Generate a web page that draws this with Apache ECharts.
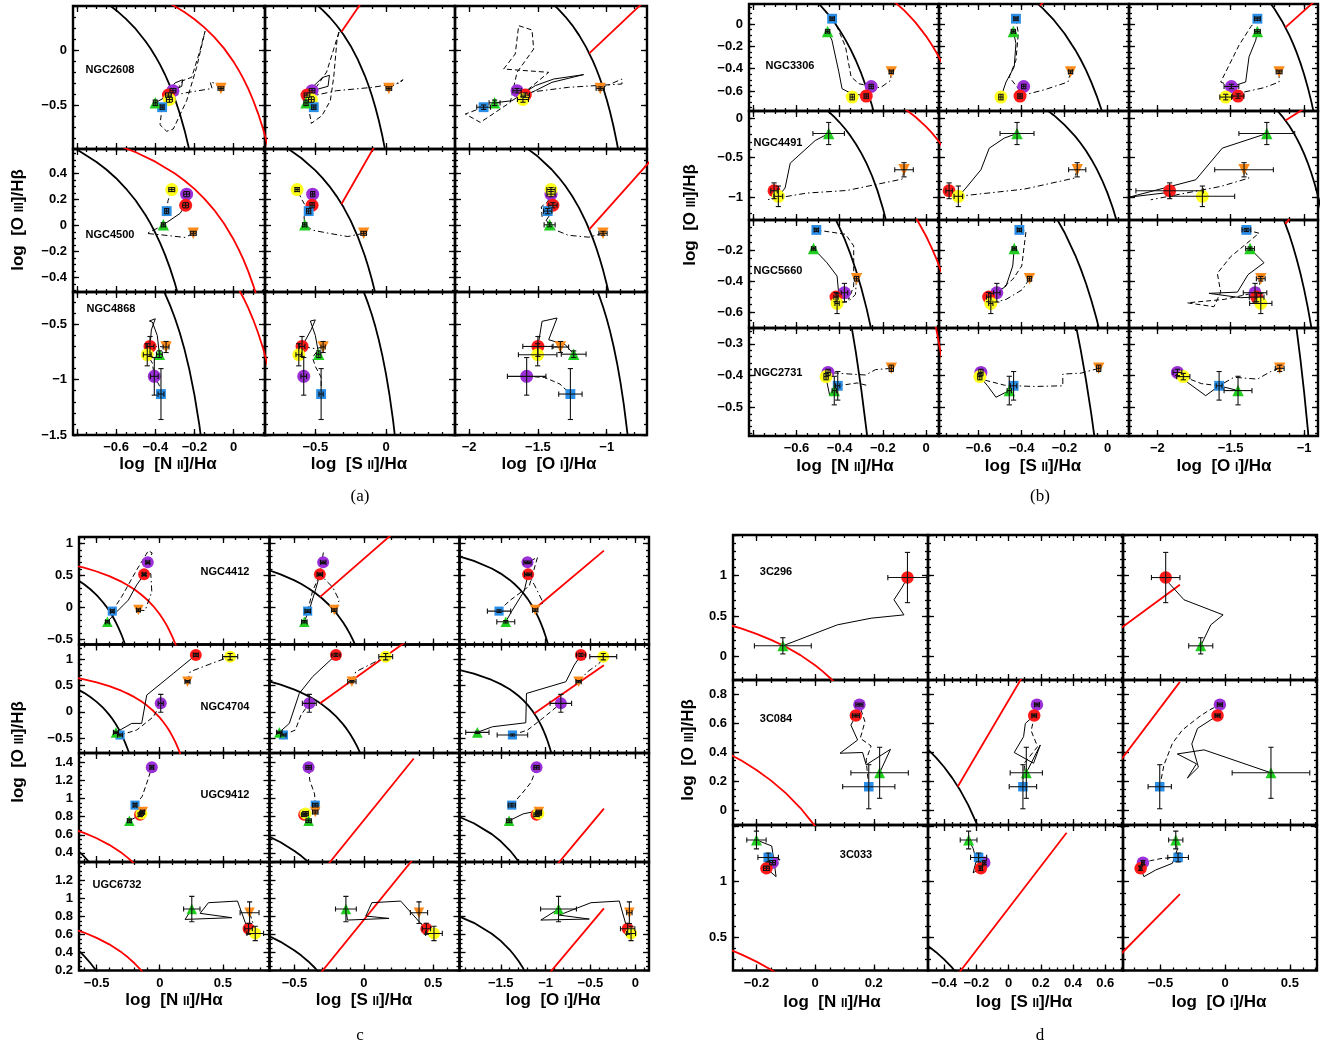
<!DOCTYPE html>
<html><head><meta charset="utf-8">
<script src="https://cdn.jsdelivr.net/npm/echarts@6/dist/echarts.min.js"></script>
<style>html,body{margin:0;padding:0;background:#fff}#c{width:1323px;height:1048px}</style>
</head><body><div id="c"></div><script>
// ---------- demarcation curves ----------
const KAUFF_NII = [[-2.0,1.002],[-1.5,0.906],[-1.2,0.812],[-1.0,0.719],[-0.9,0.658],[-0.8,0.582],[-0.7,0.487],[-0.65,0.429],[-0.6,0.362],[-0.55,0.283],[-0.5,0.191],[-0.45,0.080],[-0.425,0.016],[-0.4,-0.056],[-0.375,-0.135],[-0.35,-0.225],[-0.325,-0.327],[-0.3,-0.443],[-0.275,-0.577],[-0.25,-0.733],[-0.225,-0.918],[-0.2,-1.14],[-0.175,-1.411],[-0.15,-1.75],[-0.125,-2.186],[-0.1,-2.767]];
const KEWLEY_NII = [[-2.0,0.943],[-1.5,0.880],[-1.0,0.775],[-0.8,0.710],[-0.6,0.620],[-0.5,0.561],[-0.4,0.489],[-0.3,0.398],[-0.25,0.343],[-0.2,0.280],[-0.15,0.206],[-0.1,0.120],[-0.05,0.017],[0.0,-0.108],[0.025,-0.181],[0.05,-0.262],[0.075,-0.354],[0.1,-0.459],[0.125,-0.578],[0.15,-0.716],[0.175,-0.878],[0.2,-1.069],[0.225,-1.300],[0.25,-1.583],[0.3,-2.398]];
const KEWLEY_SII = [[-1.2,0.826],[-1.0,0.755],[-0.8,0.657],[-0.7,0.594],[-0.6,0.517],[-0.5,0.422],[-0.45,0.365],[-0.4,0.300],[-0.35,0.225],[-0.3,0.139],[-0.25,0.037],[-0.2,-0.085],[-0.15,-0.232],[-0.125,-0.318],[-0.1,-0.414],[-0.075,-0.523],[-0.05,-0.646],[-0.025,-0.787],[0.0,-0.950],[0.025,-1.141],[0.05,-1.367],[0.08,-1.700]];
const SEYLIN_SII = [[-0.315,0.165],[0.36,1.44]];
const KEWLEY_OI = [[-2.5,0.948],[-2.2,0.877],[-2.0,0.812],[-1.8,0.727],[-1.6,0.607],[-1.5,0.528],[-1.4,0.429],[-1.35,0.369],[-1.3,0.302],[-1.25,0.224],[-1.2,0.133],[-1.15,0.026],[-1.1,-0.101],[-1.075,-0.175],[-1.05,-0.257],[-1.025,-0.348],[-1.0,-0.450],[-0.975,-0.566],[-0.95,-0.698],[-0.925,-0.849],[-0.9,-1.025],[-0.875,-1.231],[-0.85,-1.478],[-0.82,-1.844]];
const SEYLIN_OI = [[-1.127,-0.03],[-0.35,0.887]];

// ---------- tick labels ----------
const A_xLabels = [[-0.6,-0.4,-0.2,0],[-0.5,0],[-2,-1.5,-1]];
const A_yLabels = [[-0.5,0],[-0.4,-0.2,0,0.2,0.4],[-1.5,-1,-0.5]];
const B_xLabels = [[-0.6,-0.4,-0.2,0],[-0.6,-0.4,-0.2,0],[-2,-1.5,-1]];
const B_yLabels = [[-0.6,-0.4,-0.2,0],[-1,-0.5,0],[-0.6,-0.4,-0.2],[-0.5,-0.4,-0.3]];
const C_xLabels = [[-0.5,0,0.5],[-0.5,0,0.5],[-1.5,-1,-0.5,0]];
const C_yLabels = [[-0.5,0,0.5,1],[-0.5,0,0.5,1],[0.4,0.6,0.8,1,1.2,1.4],[0.2,0.4,0.6,0.8,1,1.2]];
const D_xLabels = [[-0.2,0,0.2],[-0.4,-0.2,0,0.2,0.4,0.6],[-0.5,0,0.5]];
const D_yLabels = [[0,0.5,1],[0,0.2,0.4,0.6,0.8],[0.5,1]];

const A_gals = ['NGC2608','NGC4500','NGC4868'];
const B_gals = ['NGC3306','NGC4491','NGC5660','NGC2731'];
const C_gals = ['NGC4412','NGC4704','UGC9412','UGC6732'];
const D_gals = ['3C296','3C084','3C033'];

// marker order: [purple, red, yellow, blue, green, orange]
// ---------- NGC2608 ----------
const NGC2608_y  = [-0.37,-0.41,-0.45,-0.52,-0.48,-0.35];
const NGC2608_ey = [0.02,0.02,0.025,0.02,0.025,0.015];
const NGC2608_xN = [-0.31,-0.333,-0.328,-0.365,-0.40,-0.065];
const NGC2608_exN= [0.015,0.015,0.015,0.01,0.01,0.015];
const NGC2608_xS = [-0.523,-0.559,-0.528,-0.511,-0.566,0.02];
const NGC2608_exS= [0.02,0.02,0.02,0.015,0.015,0.02];
const NGC2608_xO = [-1.652,-1.592,-1.609,-1.895,-1.815,-1.047];
const NGC2608_exO= [0.03,0.03,0.04,0.05,0.04,0.03];
const NGC2608_N_paths = [
 [[-0.40,-0.48],[-0.36,-0.44],[-0.30,-0.30],[-0.26,-0.27],[-0.265,-0.33],[-0.31,-0.37]],
 [[-0.365,-0.52],[-0.376,-0.679],[-0.342,-0.739],[-0.308,-0.718],[-0.24,-0.461],[-0.189,-0.158],[-0.146,0.17],[-0.172,-0.006],[-0.214,-0.248],[-0.26,-0.279],[-0.291,-0.37]],
 [[-0.065,-0.35],[-0.10,-0.30],[-0.12,-0.29],[-0.11,-0.35],[-0.25,-0.39],[-0.36,-0.44]]];
const NGC2608_S_paths = [
 [[-0.566,-0.48],[-0.53,-0.35],[-0.45,-0.25],[-0.40,-0.23],[-0.41,-0.33],[-0.523,-0.37]],
 [[-0.511,-0.52],[-0.54,-0.582],[-0.528,-0.667],[-0.453,-0.597],[-0.394,-0.461],[-0.37,-0.248],[-0.347,0.085],[-0.33,0.176],[-0.36,0.05],[-0.42,-0.2],[-0.5,-0.35]],
 [[0.02,-0.35],[0.12,-0.27],[0.10,-0.30],[-0.1,-0.34],[-0.35,-0.37],[-0.53,-0.42]]];
const NGC2608_O_paths = [
 [[-1.815,-0.48],[-1.689,-0.461],[-1.519,-0.324],[-1.386,-0.264],[-1.168,-0.224],[-1.398,-0.294],[-1.519,-0.37],[-1.592,-0.41]],
 [[-1.895,-0.52],[-2.028,-0.582],[-1.919,-0.658],[-1.701,-0.476],[-1.652,-0.203],[-1.531,0.009],[-1.543,0.182],[-1.64,0.221],[-1.665,-0.036],[-1.749,-0.173],[-1.422,-0.203],[-1.568,-0.355],[-1.652,-0.37]],
 [[-1.047,-0.35],[-0.889,-0.264],[-0.889,-0.309],[-1.277,-0.339],[-1.567,-0.385]]];
// ---------- NGC4500 ----------
const NGC4500_y  = [0.24,0.155,0.275,0.11,0.005,-0.06];
const NGC4500_ey = [0.02,0.02,0.015,0.02,0.015,0.015];
const NGC4500_xN = [-0.24,-0.245,-0.316,-0.342,-0.359,-0.206];
const NGC4500_exN= [0.015,0.015,0.015,0.01,0.01,0.015];
const NGC4500_xS = [-0.519,-0.523,-0.629,-0.547,-0.575,-0.158];
const NGC4500_exS= [0.015,0.015,0.015,0.015,0.015,0.02];
const NGC4500_xO = [-1.405,-1.391,-1.405,-1.429,-1.415,-1.027];
const NGC4500_exO= [0.03,0.03,0.03,0.03,0.04,0.03];
const NGC4500_N_paths = [
 [[-0.359,0.005],[-0.274,0.092],[-0.245,0.155]],
 [[-0.342,0.11],[-0.335,0.19],[-0.316,0.275]],
 [[-0.206,-0.06],[-0.248,-0.092],[-0.35,-0.075],[-0.444,-0.061],[-0.36,0.0]]];
const NGC4500_S_paths = [
 [[-0.575,0.005],[-0.58,0.07],[-0.547,0.1],[-0.523,0.155]],
 [[-0.547,0.11],[-0.594,0.195],[-0.629,0.275]],
 [[-0.158,-0.06],[-0.27,-0.085],[-0.40,-0.061],[-0.52,-0.036],[-0.575,0.005]]];
const NGC4500_O_paths = [
 [[-1.415,0.005],[-1.44,0.04],[-1.40,0.1],[-1.391,0.155]],
 [[-1.429,0.11],[-1.47,0.066],[-1.475,0.143],[-1.43,0.18],[-1.405,0.24]],
 [[-1.027,-0.06],[-1.13,-0.09],[-1.28,-0.075],[-1.37,-0.036],[-1.415,0.005]]];
// ---------- NGC4868 ----------
const NGC4868_y  = [-0.97,-0.70,-0.775,-1.13,-0.77,-0.705];
const NGC4868_ey = [0.17,0.09,0.1,0.23,0.03,0.05];
const NGC4868_xN = [-0.405,-0.427,-0.441,-0.371,-0.379,-0.345];
const NGC4868_exN= [0.02,0.02,0.02,0.015,0.015,0.015];
const NGC4868_xS = [-0.582,-0.594,-0.617,-0.459,-0.476,-0.445];
const NGC4868_exS= [0.02,0.02,0.02,0.015,0.015,0.015];
const NGC4868_xO = [-1.582,-1.5,-1.502,-1.264,-1.24,-1.337];
const NGC4868_exO= [0.14,0.11,0.14,0.085,0.09,0.06];
const NGC4868_N_paths = [
 [[-0.379,-0.77],[-0.39,-0.6],[-0.415,-0.48],[-0.43,-0.47],[-0.40,-0.45],[-0.42,-0.55],[-0.427,-0.70]],
 [[-0.371,-1.13],[-0.38,-1.05],[-0.405,-0.97],[-0.415,-0.85],[-0.441,-0.775]],
 [[-0.345,-0.705],[-0.39,-0.70],[-0.427,-0.70]]];
const NGC4868_S_paths = [
 [[-0.476,-0.77],[-0.50,-0.60],[-0.535,-0.47],[-0.50,-0.46],[-0.53,-0.55],[-0.594,-0.70]],
 [[-0.459,-1.13],[-0.458,-0.98],[-0.50,-0.88],[-0.52,-0.80],[-0.48,-0.73]],
 [[-0.445,-0.705],[-0.50,-0.72],[-0.594,-0.70]]];
const NGC4868_O_paths = [
 [[-1.5,-0.70],[-1.47,-0.473],[-1.361,-0.443],[-1.422,-0.639],[-1.301,-0.684],[-1.24,-0.77]],
 [[-1.582,-0.97],[-1.45,-0.98],[-1.34,-1.04],[-1.264,-1.13]],
 [[-1.337,-0.705],[-1.41,-0.70],[-1.5,-0.70]]];
// ---------- NGC3306 ----------
const NGC3306_y  = [-0.56,-0.646,-0.655,0.048,-0.066,-0.429];
const NGC3306_ey = [0.02,0.02,0.025,0.015,0.015,0.015];
const NGC3306_xN = [-0.254,-0.277,-0.342,-0.435,-0.456,-0.161];
const NGC3306_exN= [0.01,0.01,0.01,0.01,0.01,0.01];
const NGC3306_xS = [-0.39,-0.407,-0.496,-0.426,-0.438,-0.172];
const NGC3306_exS= [0.01,0.01,0.01,0.01,0.01,0.01];
const NGC3306_xO = [-1.495,-1.45,-1.534,-1.318,-1.318,-1.17];
const NGC3306_exO= [0.05,0.04,0.04,0.02,0.02,0.02];
const NGC3306_N_paths = [
 [[-0.456,-0.066],[-0.436,-0.144],[-0.404,-0.429],[-0.389,-0.58],[-0.35,-0.619],[-0.277,-0.646]],
 [[-0.435,0.048],[-0.412,-0.024],[-0.373,-0.204],[-0.347,-0.474],[-0.311,-0.535],[-0.254,-0.56]],
 [[-0.161,-0.429],[-0.164,-0.505],[-0.211,-0.571],[-0.254,-0.56]]];
const NGC3306_S_paths = [
 [[-0.438,-0.066],[-0.426,-0.174],[-0.434,-0.384],[-0.472,-0.52],[-0.496,-0.655]],
 [[-0.426,0.048],[-0.415,-0.084],[-0.426,-0.324],[-0.457,-0.474],[-0.407,-0.60],[-0.39,-0.56]],
 [[-0.172,-0.429],[-0.184,-0.52],[-0.293,-0.589],[-0.407,-0.646]]];
const NGC3306_O_paths = [
 [[-1.318,-0.066],[-1.329,-0.144],[-1.375,-0.294],[-1.398,-0.52],[-1.495,-0.56]],
 [[-1.318,0.048],[-1.363,-0.024],[-1.443,-0.189],[-1.568,-0.52],[-1.495,-0.56]],
 [[-1.17,-0.429],[-1.17,-0.52],[-1.273,-0.571],[-1.409,-0.61],[-1.45,-0.646]]];
// ---------- NGC4491 ----------
const NGC4491_y  = [null,-0.92,-0.99,null,-0.195,-0.654];
const NGC4491_ey = [0,0.1,0.13,0,0.14,0.09];
const NGC4491_xN = [null,-0.704,-0.684,null,-0.451,-0.102];
const NGC4491_exN= [0,0.015,0.02,0,0.073,0.043];
const NGC4491_xS = [null,-0.737,-0.694,null,-0.421,-0.141];
const NGC4491_exS= [0,0.015,0.02,0,0.079,0.04];
const NGC4491_xO = [null,-1.916,-1.693,null,-1.254,-1.409];
const NGC4491_exO= [0,0.23,0.22,0,0.19,0.2];
const NGC4491_N_paths = [
 [[-0.451,-0.195],[-0.513,-0.283],[-0.629,-0.57],[-0.653,-0.886],[-0.684,-0.99]],
 [],
 [[-0.102,-0.654],[-0.11,-0.772],[-0.366,-0.916],[-0.552,-0.949],[-0.738,-1.034]]];
const NGC4491_S_paths = [
 [[-0.421,-0.195],[-0.48,-0.253],[-0.55,-0.38],[-0.589,-0.654],[-0.659,-0.886],[-0.694,-0.99]],
 [],
 [[-0.141,-0.654],[-0.153,-0.759],[-0.387,-0.899],[-0.694,-0.99]]];
const NGC4491_O_paths = [
 [[-1.254,-0.195],[-1.557,-0.38],[-1.738,-0.781],[-2.19,-1.0],[-1.916,-0.94]],
 [],
 [[-1.409,-0.654],[-1.375,-0.759],[-1.568,-0.865],[-2.045,-1.034]]];
// ---------- NGC5660 ----------
const NGC5660_y  = [-0.473,-0.501,-0.542,-0.069,-0.189,-0.383];
const NGC5660_ey = [0.06,0.03,0.065,0.01,0.01,0.015];
const NGC5660_xN = [-0.378,-0.417,-0.412,-0.508,-0.521,-0.322];
const NGC5660_exN= [0.015,0.01,0.01,0.01,0.01,0.01];
const NGC5660_xS = [-0.515,-0.553,-0.543,-0.41,-0.434,-0.363];
const NGC5660_exS= [0.015,0.01,0.01,0.01,0.01,0.01];
const NGC5660_xO = [-1.334,-1.323,-1.295,-1.393,-1.368,-1.295];
const NGC5660_exO= [0.08,0.05,0.076,0.03,0.03,0.03];
const NGC5660_N_paths = [
 [[-0.521,-0.189],[-0.459,-0.28],[-0.412,-0.366],[-0.405,-0.473],[-0.417,-0.501]],
 [[-0.508,-0.069],[-0.373,-0.097],[-0.335,-0.172],[-0.335,-0.43],[-0.358,-0.516],[-0.378,-0.473]],
 [[-0.322,-0.383],[-0.327,-0.484],[-0.358,-0.527],[-0.412,-0.542]]];
const NGC5660_S_paths = [
 [[-0.434,-0.189],[-0.441,-0.301],[-0.472,-0.43],[-0.515,-0.473]],
 [[-0.41,-0.069],[-0.379,-0.075],[-0.399,-0.301],[-0.441,-0.387],[-0.515,-0.473]],
 [[-0.363,-0.383],[-0.395,-0.452],[-0.472,-0.516],[-0.543,-0.542]]];
const NGC5660_O_paths = [
 [[-1.368,-0.189],[-1.273,-0.28],[-1.382,-0.357],[-1.454,-0.469],[-1.648,-0.477],[-1.432,-0.505],[-1.323,-0.501]],
 [[-1.393,-0.069],[-1.307,-0.09],[-1.5,-0.241],[-1.591,-0.348],[-1.568,-0.469],[-1.614,-0.563],[-1.795,-0.538],[-1.545,-0.516],[-1.334,-0.473]],
 [[-1.295,-0.383],[-1.31,-0.45],[-1.295,-0.542]]];
// ---------- NGC2731 ----------
const NGC2731_y  = [-0.39,null,-0.403,-0.432,-0.447,-0.377];
const NGC2731_ey = [0.01,0,0.01,0.045,0.045,0.01];
const NGC2731_xN = [-0.454,null,-0.463,-0.409,-0.425,-0.161];
const NGC2731_exN= [0.01,0,0.01,0.01,0.01,0.01];
const NGC2731_xS = [-0.589,null,-0.594,-0.437,-0.457,-0.041];
const NGC2731_exS= [0.01,0,0.01,0.015,0.01,0.01];
const NGC2731_xO = [-1.863,null,-1.823,-1.579,-1.45,-1.166];
const NGC2731_exO= [0.03,0,0.045,0.02,0.095,0.03];
const NGC2731_N_paths = [
 [[-0.425,-0.447],[-0.446,-0.463],[-0.459,-0.421],[-0.463,-0.403]],
 [[-0.409,-0.432],[-0.319,-0.423],[-0.265,-0.432]],
 [[-0.161,-0.377],[-0.234,-0.381],[-0.28,-0.398],[-0.397,-0.393],[-0.454,-0.39]]];
const NGC2731_S_paths = [
 [[-0.457,-0.447],[-0.519,-0.468],[-0.558,-0.432],[-0.594,-0.403]],
 [[-0.437,-0.432],[-0.48,-0.43],[-0.594,-0.41]],
 [[-0.041,-0.377],[-0.122,-0.392],[-0.208,-0.395],[-0.208,-0.432],[-0.34,-0.434],[-0.437,-0.432]]];
const NGC2731_O_paths = [
 [[-1.45,-0.447],[-1.579,-0.432],[-1.67,-0.463],[-1.795,-0.421],[-1.823,-0.403]],
 [[-1.579,-0.432],[-1.7,-0.425],[-1.823,-0.403]],
 [[-1.166,-0.377],[-1.227,-0.387],[-1.318,-0.411],[-1.477,-0.405],[-1.579,-0.432]]];
// ---------- NGC4412 ----------
const NGC4412_y  = [0.704,0.516,null,-0.058,-0.225,-0.042];
const NGC4412_ey = [0.02,0.02,0,0.02,0.02,0.02];
const NGC4412_xN = [-0.095,-0.124,null,-0.376,-0.415,-0.169];
const NGC4412_exN= [0.015,0.015,0,0.015,0.015,0.015];
const NGC4412_xS = [-0.293,-0.317,null,-0.405,-0.429,-0.213];
const NGC4412_exS= [0.02,0.02,0,0.02,0.02,0.02];
const NGC4412_xO = [-1.202,-1.195,null,-1.519,-1.444,-1.116];
const NGC4412_exO= [0.04,0.04,0,0.13,0.1,0.03];
const NGC4412_N_paths = [
 [[-0.415,-0.225],[-0.341,-0.068],[-0.249,0.114],[-0.183,0.349],[-0.124,0.516]],
 [[-0.376,-0.058],[-0.302,0.166],[-0.183,0.584],[-0.09,0.886],[-0.06,0.85],[-0.095,0.704]],
 [[-0.169,-0.042],[-0.116,-0.049],[-0.063,0.245],[-0.071,0.528],[-0.124,0.516]]];
const NGC4412_S_paths = [
 [[-0.429,-0.225],[-0.388,-0.002],[-0.345,0.298],[-0.317,0.516]],
 [[-0.405,-0.058],[-0.37,0.25],[-0.317,0.516],[-0.29,0.88]],
 [[-0.213,-0.042],[-0.177,0.108],[-0.225,0.317],[-0.317,0.516]]];
const NGC4412_O_paths = [
 [[-1.444,-0.225],[-1.377,-0.058],[-1.239,0.256],[-1.195,0.516]],
 [[-1.519,-0.058],[-1.407,0.099],[-1.183,0.332],[-1.09,0.782],[-1.202,0.704]],
 [[-1.116,-0.042],[-1.027,0.073],[-1.128,0.36],[-1.195,0.516]]];
// ---------- NGC4704 ----------
const NGC4704_y  = [0.163,1.081,1.049,-0.438,-0.388,0.574];
const NGC4704_ey = [0.17,0.03,0.06,0.02,0.02,0.02];
const NGC4704_xN = [0.008,0.286,0.558,-0.315,-0.347,0.22];
const NGC4704_exN= [0.02,0.02,0.06,0.02,0.02,0.02];
const NGC4704_xS = [-0.393,-0.201,0.158,-0.58,-0.609,-0.086];
const NGC4704_exS= [0.05,0.03,0.05,0.02,0.02,0.03];
const NGC4704_xO = [-0.83,-0.606,-0.357,-1.37,-1.761,-0.632];
const NGC4704_exO= [0.12,0.05,0.15,0.17,0.13,0.03];
const NGC4704_N_paths = [
 [[-0.347,-0.388],[-0.222,-0.218],[-0.143,-0.218],[-0.103,0.32],[0.108,0.731],[0.286,1.081]],
 [[-0.315,-0.438],[-0.183,-0.345],[-0.05,-0.092],[0.008,0.163]],
 [[0.22,0.574],[0.241,0.763],[0.426,0.934],[0.558,1.049]]];
const NGC4704_S_paths = [
 [[-0.609,-0.388],[-0.537,-0.218],[-0.465,0.352],[-0.369,0.669],[-0.201,1.081]],
 [[-0.58,-0.438],[-0.494,-0.345],[-0.453,-0.06],[-0.393,0.163]],
 [[-0.086,0.574],[-0.058,0.763],[0.062,0.922],[0.158,1.049]]];
const NGC4704_O_paths = [
 [[-1.761,-0.388],[-1.593,-0.282],[-1.221,-0.206],[-1.213,0.351],[-0.774,0.573],[-0.681,0.889],[-0.606,1.081]],
 [[-1.37,-0.438],[-1.202,-0.345],[-1.034,-0.124],[-0.83,0.163]],
 [[-0.632,0.574],[-0.532,0.763],[-0.401,0.922],[-0.357,1.049]]];
// ---------- UGC9412 ----------
const UGC9412_y  = [1.342,0.82,0.835,0.926,0.754,0.85];
const UGC9412_ey = [0.02,0.02,0.02,0.02,0.02,0.02];
const UGC9412_xN = [-0.063,-0.156,-0.145,-0.196,-0.241,-0.135];
const UGC9412_exN= [0.015,0.015,0.015,0.015,0.015,0.015];
const UGC9412_xS = [-0.398,-0.43,-0.42,-0.35,-0.398,-0.35];
const UGC9412_exS= [0.02,0.02,0.02,0.02,0.02,0.02];
const UGC9412_xO = [-1.101,-1.101,-1.08,-1.377,-1.407,-1.075];
const UGC9412_exO= [0.03,0.03,0.03,0.04,0.03,0.03];
const UGC9412_N_paths = [
 [[-0.241,0.754],[-0.18,0.8],[-0.156,0.82]],
 [[-0.196,0.926],[-0.14,1.02],[-0.10,1.18],[-0.063,1.342]], []];
const UGC9412_S_paths = [
 [[-0.398,0.754],[-0.41,0.8],[-0.43,0.82]],
 [[-0.35,0.926],[-0.355,1.05],[-0.39,1.2],[-0.398,1.342]], []];
const UGC9412_O_paths = [
 [[-1.407,0.754],[-1.25,0.83],[-1.15,0.85],[-1.101,0.82]],
 [[-1.377,0.926],[-1.25,1.07],[-1.16,1.18],[-1.101,1.342]], []];
// ---------- UGC6732 ----------
const UGC6732_y  = [null,0.662,0.61,null,0.88,0.839];
const UGC6732_ey = [0,0.06,0.08,0,0.14,0.12];
const UGC6732_xN = [null,0.704,0.757,null,0.254,0.712];
const UGC6732_exN= [0,0.03,0.066,0,0.065,0.075];
const UGC6732_xS = [null,0.451,0.506,null,-0.129,0.398];
const UGC6732_exS= [0,0.03,0.06,0,0.075,0.062];
const UGC6732_xO = [null,-0.085,-0.047,null,-0.856,-0.066];
const UGC6732_exO= [0,0.08,0.05,0,0.2,0.03];
const UGC6732_N_paths = [
 [[0.254,0.88],[0.201,0.765],[0.571,0.784],[0.32,0.832],[0.386,0.95],[0.616,0.968],[0.69,0.684],[0.704,0.662]],
 [], [[0.712,0.839],[0.74,0.72],[0.757,0.61]]];
const UGC6732_S_paths = [
 [[-0.129,0.88],[-0.118,0.758],[0.182,0.776],[0.014,0.802],[0.058,0.95],[0.266,0.968],[0.41,0.721],[0.451,0.662]], [], []];
const UGC6732_O_paths = [
 [[-0.856,0.88],[-1.053,0.758],[-0.513,0.769],[-0.848,0.813],[-0.494,0.95],[-0.178,0.968],[-0.103,0.703],[-0.085,0.662]], [], []];
// ---------- 3C296 ----------
const G3C296_y  = [null,0.975,null,null,0.132,null];
const G3C296_ey = [0,0.31,0,0,0.1,0];
const G3C296_xN = [null,0.315,null,null,-0.11,null];
const G3C296_exN= [0,0.067,0,0,0.097,0];
const G3C296_xS = [null,null,null,null,null,null];
const G3C296_exS= [0,0,0,0,0,0];
const G3C296_xO = [null,-0.46,null,null,-0.189,null];
const G3C296_exO= [0,0.11,0,0,0.093,0];
const G3C296_N_paths = [[[-0.11,0.132],[0.076,0.391],[0.191,0.473],[0.303,0.514],[0.269,0.70],[0.297,0.856],[0.315,0.975]],[],[]];
const G3C296_S_paths = [[],[],[]];
const G3C296_O_paths = [[[-0.189,0.132],[-0.111,0.391],[-0.016,0.514],[-0.318,0.70],[-0.434,0.905],[-0.46,0.975]],[],[]];
// ---------- 3C084 ----------
const G3C084_y  = [0.73,0.655,null,0.164,0.26,null];
const G3C084_ey = [0.01,0.01,0,0.152,0.176,0];
const G3C084_xN = [0.151,0.139,null,0.183,0.22,null];
const G3C084_exN= [0.012,0.012,0,0.089,0.098,0];
const G3C084_xS = [0.176,0.159,null,0.089,0.11,null];
const G3C084_exS= [0.015,0.015,0,0.085,0.1,0];
const G3C084_xO = [-0.041,-0.059,null,-0.506,0.354,null];
const G3C084_exO= [0.02,0.02,0,0.09,0.3,0];
const G3C084_N_paths = [
 [[0.22,0.26],[0.257,0.422],[0.174,0.315],[0.162,0.40],[0.085,0.395],[0.145,0.486],[0.122,0.589],[0.139,0.655]],
 [[0.183,0.164],[0.174,0.349],[0.191,0.445],[0.154,0.498],[0.17,0.612],[0.151,0.73]], []];
const G3C084_S_paths = [
 [[0.11,0.26],[0.197,0.452],[0.155,0.326],[0.035,0.40],[0.093,0.509],[0.104,0.60],[0.159,0.655]],
 [[0.089,0.164],[0.1,0.33],[0.18,0.44],[0.14,0.55],[0.176,0.73]], []];
const G3C084_O_paths = [
 [[0.354,0.26],[-0.163,0.418],[-0.37,0.39],[-0.222,0.322],[-0.292,0.224],[-0.207,0.299],[-0.258,0.459],[-0.214,0.566],[-0.059,0.655]],
 [[-0.506,0.164],[-0.473,0.315],[-0.408,0.463],[-0.331,0.555],[-0.202,0.646],[-0.124,0.692],[-0.041,0.73]], []];
// ---------- 3C033 ----------
const G3C033_y  = [1.171,1.12,null,1.218,1.375,null];
const G3C033_ey = [0.02,0.02,0,0.04,0.08,0];
const G3C033_xN = [-0.145,-0.166,null,-0.16,-0.2,null];
const G3C033_exN= [0.01,0.01,0,0.035,0.033,0];
const G3C033_xS = [-0.151,-0.172,null,-0.186,-0.248,null];
const G3C033_exS= [0.01,0.01,0,0.05,0.052,0];
const G3C033_xO = [-0.636,-0.654,null,-0.364,-0.382,null];
const G3C033_exO= [0.01,0.01,0,0.08,0.055,0];
const G3C033_N_paths = [
 [[-0.2,1.375],[-0.148,1.321],[-0.14,1.18],[-0.133,1.045],[-0.166,1.12]],
 [[-0.16,1.218],[-0.12,1.2],[-0.13,1.15]], []];
const G3C033_S_paths = [[[-0.248,1.375],[-0.22,1.3],[-0.2,1.19],[-0.22,1.08],[-0.172,1.12]], [], []];
const G3C033_O_paths = [
 [[-0.382,1.375],[-0.37,1.29],[-0.408,1.165],[-0.537,1.105],[-0.628,1.045],[-0.654,1.12]],
 [[-0.364,1.218],[-0.486,1.21],[-0.576,1.189],[-0.636,1.171]], []];

// ---------- registry built from the arrays ----------
const GAL = {};
function reg(n,y,ey,xN,exN,xS,exS,xO,exO,pN,pS,pO){ GAL[n]={y,ey,x:[xN,xS,xO],ex:[exN,exS,exO],p:[pN,pS,pO]}; }
reg('NGC2608',NGC2608_y,NGC2608_ey,NGC2608_xN,NGC2608_exN,NGC2608_xS,NGC2608_exS,NGC2608_xO,NGC2608_exO,NGC2608_N_paths,NGC2608_S_paths,NGC2608_O_paths);
reg('NGC4500',NGC4500_y,NGC4500_ey,NGC4500_xN,NGC4500_exN,NGC4500_xS,NGC4500_exS,NGC4500_xO,NGC4500_exO,NGC4500_N_paths,NGC4500_S_paths,NGC4500_O_paths);
reg('NGC4868',NGC4868_y,NGC4868_ey,NGC4868_xN,NGC4868_exN,NGC4868_xS,NGC4868_exS,NGC4868_xO,NGC4868_exO,NGC4868_N_paths,NGC4868_S_paths,NGC4868_O_paths);
reg('NGC3306',NGC3306_y,NGC3306_ey,NGC3306_xN,NGC3306_exN,NGC3306_xS,NGC3306_exS,NGC3306_xO,NGC3306_exO,NGC3306_N_paths,NGC3306_S_paths,NGC3306_O_paths);
reg('NGC4491',NGC4491_y,NGC4491_ey,NGC4491_xN,NGC4491_exN,NGC4491_xS,NGC4491_exS,NGC4491_xO,NGC4491_exO,NGC4491_N_paths,NGC4491_S_paths,NGC4491_O_paths);
reg('NGC5660',NGC5660_y,NGC5660_ey,NGC5660_xN,NGC5660_exN,NGC5660_xS,NGC5660_exS,NGC5660_xO,NGC5660_exO,NGC5660_N_paths,NGC5660_S_paths,NGC5660_O_paths);
reg('NGC2731',NGC2731_y,NGC2731_ey,NGC2731_xN,NGC2731_exN,NGC2731_xS,NGC2731_exS,NGC2731_xO,NGC2731_exO,NGC2731_N_paths,NGC2731_S_paths,NGC2731_O_paths);
reg('NGC4412',NGC4412_y,NGC4412_ey,NGC4412_xN,NGC4412_exN,NGC4412_xS,NGC4412_exS,NGC4412_xO,NGC4412_exO,NGC4412_N_paths,NGC4412_S_paths,NGC4412_O_paths);
reg('NGC4704',NGC4704_y,NGC4704_ey,NGC4704_xN,NGC4704_exN,NGC4704_xS,NGC4704_exS,NGC4704_xO,NGC4704_exO,NGC4704_N_paths,NGC4704_S_paths,NGC4704_O_paths);
reg('UGC9412',UGC9412_y,UGC9412_ey,UGC9412_xN,UGC9412_exN,UGC9412_xS,UGC9412_exS,UGC9412_xO,UGC9412_exO,UGC9412_N_paths,UGC9412_S_paths,UGC9412_O_paths);
reg('UGC6732',UGC6732_y,UGC6732_ey,UGC6732_xN,UGC6732_exN,UGC6732_xS,UGC6732_exS,UGC6732_xO,UGC6732_exO,UGC6732_N_paths,UGC6732_S_paths,UGC6732_O_paths);
reg('3C296',G3C296_y,G3C296_ey,G3C296_xN,G3C296_exN,G3C296_xS,G3C296_exS,G3C296_xO,G3C296_exO,G3C296_N_paths,G3C296_S_paths,G3C296_O_paths);
reg('3C084',G3C084_y,G3C084_ey,G3C084_xN,G3C084_exN,G3C084_xS,G3C084_exS,G3C084_xO,G3C084_exO,G3C084_N_paths,G3C084_S_paths,G3C084_O_paths);
reg('3C033',G3C033_y,G3C033_ey,G3C033_xN,G3C033_exN,G3C033_xS,G3C033_exS,G3C033_xO,G3C033_exO,G3C033_N_paths,G3C033_S_paths,G3C033_O_paths);

// ---------- styles & layout ----------
const MK = [
  {color:'#9b2fd8', symbol:'circle', f:1.0},
  {color:'#ff1a1a', symbol:'circle', f:1.0},
  {color:'#ffff1e', symbol:'circle', f:1.0},
  {color:'#2a8ee6', symbol:'rect', f:0.76},
  {color:'#20cf20', symbol:'triangle', f:0.88},
  {color:'#ff8c1a', symbol:'triangle', f:0.88, rot:180}
];
const COL_CURVES = [[KAUFF_NII, KEWLEY_NII],[KEWLEY_SII, SEYLIN_SII],[KEWLEY_OI, SEYLIN_OI]];
const PATH_STYLE = ['solid',[5,3],[6,3,1.5,3]];
const PANELS = [
 {cols:[73,265,455,647], rows:[6,149,292,435], xr:[[-0.82,0.16,0.2,0.05],[-0.856,0.488,0.5,0.1],[-2.103,-0.707,0.5,0.1]], yr:[[-0.9,0.4,0.5,0.1],[-0.51,0.586,0.2,0.05],[-1.5,-0.208,0.5,0.1]], xl:A_xLabels, yl:A_yLabels, gals:A_gals, sz:13},
 {cols:[749,939,1129,1318], rows:[4,111,220,328,436], xr:[[-0.82,0.06,0.2,0.05],[-0.784,0.1,0.2,0.05],[-2.193,-0.905,0.5,0.1]], yr:[[-0.78,0.18,0.2,0.05],[-1.29,0.09,0.5,0.1],[-0.7,-0.005,0.2,0.05],[-0.59,-0.25,0.1,0.02]], xl:B_xLabels, yl:B_yLabels, gals:B_gals, sz:13},
 {cols:[79,269.5,459.5,649], rows:[537,644.5,753,862,970.5], xr:[[-0.64,0.87,0.5,0.1],[-0.68,0.69,0.5,0.1],[-1.96,0.153,0.5,0.1]], yr:[[-0.58,1.1,0.5,0.1],[-0.78,1.28,0.5,0.1],[0.3,1.5,0.2,0.05],[0.2,1.4,0.2,0.05]], xl:C_xLabels, yl:C_yLabels, gals:C_gals, sz:12},
 {cols:[733,928,1123,1317], rows:[535,680,825,970.5], xr:[[-0.28,0.385,0.2,0.05],[-0.5,0.71,0.2,0.05],[-0.79,0.71,0.5,0.1]], yr:[[-0.29,1.5,0.5,0.1],[-0.1,0.9,0.2,0.05],[0.2,1.51,0.5,0.1]], xl:D_xLabels, yl:D_yLabels, gals:D_gals, sz:12.5}
];
const NAME_POS = {NGC2608:[110,70],NGC4500:[110,235],NGC4868:[111,309],NGC3306:[790,66],NGC4491:[778,143],NGC5660:[778,271],NGC2731:[778,373],
  NGC4412:[225,572],NGC4704:[225,707],UGC9412:[225,795],UGC6732:[117,885],'3C296':[776,572],'3C084':[776,719],'3C033':[856,855]};
const XTITLE_Y = [464,466,1000,1002];
const XTITLE_X = [[168,359,549],[845,1033,1224],[174,364,553],[832,1024,1219]];
const YTITLE_POS = [[18,220],[690,215],[18,752],[688,750]];
const CAPTIONS = [['(a)',360,497],['(b)',1040,497],['c',360,1036],['d',1040,1036]];

const FONT = 'Liberation Sans, Arial, sans-serif';
const fmt = v => (v < 0 ? '\u2212' : '') + String(Math.abs(v));
function multiples(min,max,step){ const o=[]; for(let k=Math.ceil(min/step-1e-6); k*step<=max+1e-9; k++) o.push(+(k*step).toFixed(6)); return o; }

const grids=[], xAxes=[], yAxes=[], series=[], graphic=[];
function axis(list, gi, r, pos, vals, len, labels){
  list.push({type:'value', gridIndex:gi, min:r[0], max:r[1], position:pos, silent:true,
    axisLine:{show:false, onZero:false}, splitLine:{show:false}, axisPointer:{show:false},
    axisTick:{show:true, inside:true, length:len, customValues:vals, lineStyle:{color:'#000', width:1.3}},
    axisLabel: labels ? {show:true, customValues:labels, formatter:fmt, color:'#000', fontFamily:FONT, fontWeight:'bold', fontSize:13, margin:6} : {show:false}});
  return list.length-1;
}

PANELS.forEach((P,pi)=>{
  const nr = P.rows.length-1;
  for(let i=0;i<nr;i++) for(let j=0;j<3;j++){
    const gi = grids.length;
    grids.push({left:P.cols[j], top:P.rows[i], width:P.cols[j+1]-P.cols[j], height:P.rows[i+1]-P.rows[i],
      show:true, borderColor:'#000', borderWidth:2.4, backgroundColor:'rgba(0,0,0,0)'});
    const xr=P.xr[j], yr=P.yr[i];
    const xM=multiples(xr[0],xr[1],xr[2]), xm=multiples(xr[0],xr[1],xr[3]);
    const yM=multiples(yr[0],yr[1],yr[2]), ym=multiples(yr[0],yr[1],yr[3]);
    const xi = axis(xAxes,gi,xr,'bottom',xM,6,i===nr-1?P.xl[j]:null);
    axis(xAxes,gi,xr,'bottom',xm,3,null); axis(xAxes,gi,xr,'top',xM,6,null); axis(xAxes,gi,xr,'top',xm,3,null);
    const yi = axis(yAxes,gi,yr,'left',yM,6,j===0?P.yl[i]:null);
    axis(yAxes,gi,yr,'left',ym,3,null); axis(yAxes,gi,yr,'right',yM,6,null); axis(yAxes,gi,yr,'right',ym,3,null);

    const g = GAL[P.gals[i]];
    const xs = g.x[j], exs = g.ex[j];
    const hasData = xs.some(v=>v!==null);
    if(hasData){
      COL_CURVES[j].forEach((cv,ci)=>series.push({type:'line', xAxisIndex:xi, yAxisIndex:yi, data:cv, showSymbol:false, symbol:'none', silent:true, z:2,
        lineStyle:{color:ci===0?'#000':'#ff0000', width:1.8}}));
    }
    g.p[j].forEach((path,k)=>{ if(path && path.length) series.push({type:'line', xAxisIndex:xi, yAxisIndex:yi, data:path, showSymbol:false, symbol:'none', silent:true, z:3,
        lineStyle:{color:'#000', width:1, type:PATH_STYLE[k]}}); });
    const pts=[], errs=[];
    for(let m=0;m<6;m++){
      if(g.y[m]===null || xs[m]===null) continue;
      const s=MK[m];
      pts.push({value:[xs[m],g.y[m]], symbol:s.symbol, symbolSize:P.sz*s.f, symbolRotate:s.rot||0, itemStyle:{color:s.color, opacity:1}});
      errs.push([xs[m], g.y[m], exs[m], g.ey[m]]);
    }
    series.push({type:'scatter', xAxisIndex:xi, yAxisIndex:yi, data:pts, silent:true, z:4});
    series.push({type:'custom', xAxisIndex:xi, yAxisIndex:yi, data:errs, silent:true, z:5, clip:true, encode:{x:0,y:1},
      renderItem:(params, api)=>{
        const x=api.value(0), y=api.value(1), ex=api.value(2), ey=api.value(3);
        const l=api.coord([x-ex,y]), r=api.coord([x+ex,y]), t=api.coord([x,y+ey]), b=api.coord([x,y-ey]);
        const c=2.6, segs=[[l,r],[t,b],[[l[0],l[1]-c],[l[0],l[1]+c]],[[r[0],r[1]-c],[r[0],r[1]+c]],[[t[0]-c,t[1]],[t[0]+c,t[1]]],[[b[0]-c,b[1]],[b[0]+c,b[1]]]];
        return {type:'group', children:segs.map(sg=>({type:'line', shape:{x1:sg[0][0],y1:sg[0][1],x2:sg[1][0],y2:sg[1][1]}, style:{stroke:'#111', lineWidth:1.1}}))};
      }});
    if(j===0){
      const np = NAME_POS[P.gals[i]];
      graphic.push({type:'text', x:np[0], y:np[1], z:10, style:{text:P.gals[i], fill:'#000', font:'bold 11px '+FONT, textAlign:'center', textVerticalAlign:'middle', verticalAlign:'middle', align:'center'}});
    }
  }
  const titles = ['log  [N {s|II}]/H\u03b1','log  [S {s|II}]/H\u03b1','log  [O {s|I}]/H\u03b1'];
  titles.forEach((t,j)=>graphic.push({type:'text', x:XTITLE_X[pi][j], y:XTITLE_Y[pi], z:10,
    style:{text:t, fill:'#000', font:'bold 17px '+FONT, textAlign:'center', align:'center', textVerticalAlign:'middle', verticalAlign:'middle',
      rich:{s:{font:'bold 12px '+FONT, fill:'#000', verticalAlign:'bottom', padding:[0,0,1,0]}}}}));
  graphic.push({type:'text', x:YTITLE_POS[pi][0], y:YTITLE_POS[pi][1], rotation:Math.PI/2, z:10,
    style:{text:'log  [O {s|III}]/H\u03b2', fill:'#000', font:'bold 17px '+FONT, textAlign:'center', align:'center', textVerticalAlign:'middle', verticalAlign:'middle',
      rich:{s:{font:'bold 12px '+FONT, fill:'#000', verticalAlign:'bottom', padding:[0,0,1,0]}}}});
  const cp = CAPTIONS[pi];
  graphic.push({type:'text', x:cp[1], y:cp[2], z:10, style:{text:cp[0], fill:'#000', font:'17px Liberation Serif, Times New Roman, serif', textAlign:'center', align:'center', textVerticalAlign:'middle', verticalAlign:'middle'}});
});

const chart = echarts.init(document.getElementById('c'), null, {renderer:'canvas'});
chart.setOption({animation:false, backgroundColor:'#fff', grid:grids, xAxis:xAxes, yAxis:yAxes, series, graphic:{elements:graphic}});
</script></body></html>
